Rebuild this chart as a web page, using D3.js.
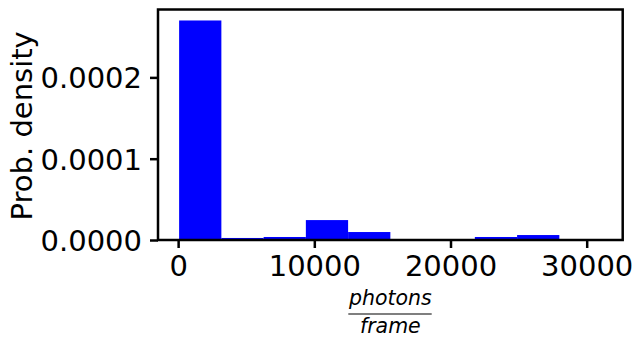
<!DOCTYPE html>
<html>
<head>
<meta charset="utf-8">
<script src="https://cdn.jsdelivr.net/npm/d3@7"></script>
<style>
  html, body { margin: 0; padding: 0; background: #fff; }
  svg { display: block; font-family: "DejaVu Sans", sans-serif; }
</style>
</head>
<body>
<svg id="chart" width="643" height="345"></svg>
<script>
// Histogram bin edges (photons/frame) and probability densities
const binEdges = [73, 3175, 6277, 9379, 12481, 15583, 18685, 21787, 24889, 27991, 31093];
const densities = [2.70e-4, 2.5e-6, 3.7e-6, 2.45e-5, 9.8e-6, 0, 0, 3.7e-6, 6.1e-6, 3e-7];
const xTicks = [0, 10000, 20000, 30000];
const yTicks = [0, 0.0001, 0.0002];
const yTickLabels = ["0.0000", "0.0001", "0.0002"];

const svg = d3.select("#chart");
const mLeft = 158, mRight = 622.7, mTop = 9.5, mBottom = 240;

const span = binEdges[binEdges.length - 1] - binEdges[0];
const x = d3.scaleLinear()
  .domain([binEdges[0] - 0.05 * span, binEdges[binEdges.length - 1] + 0.05 * span])
  .range([mLeft, mRight]);
const y = d3.scaleLinear()
  .domain([0, d3.max(densities) * 1.05])
  .range([mBottom, mTop]);

const bins = densities.map((d, i) => ({x0: binEdges[i], x1: binEdges[i + 1], v: d}));

svg.append("g").selectAll("rect").data(bins).join("rect")
  .attr("x", d => x(d.x0))
  .attr("width", d => x(d.x1) - x(d.x0))
  .attr("y", d => y(d.v))
  .attr("height", d => y(0) - y(d.v))
  .attr("fill", "#0000ff");

// Axes
const fs = 29;
const xAxis = d3.axisBottom(x).tickValues(xTicks).tickFormat(d3.format("d")).tickSize(8).tickPadding(7);
const gx = svg.append("g").attr("transform", `translate(0,${mBottom})`).call(xAxis);
gx.select(".domain").remove();
gx.selectAll(".tick line").attr("stroke", "#000").attr("stroke-width", 2.5);
gx.selectAll(".tick text").attr("font-size", fs).attr("font-family", "DejaVu Sans").attr("fill", "#000");

const yAxis = d3.axisLeft(y).tickValues(yTicks).tickFormat((d, i) => yTickLabels[i]).tickSize(8).tickPadding(8);
const gy = svg.append("g").attr("transform", `translate(${mLeft},0)`).call(yAxis);
gy.select(".domain").remove();
gy.selectAll(".tick line").attr("stroke", "#000").attr("stroke-width", 2.5);
gy.selectAll(".tick text").attr("font-size", fs).attr("font-family", "DejaVu Sans").attr("fill", "#000")
  .attr("dy", "0.36em");

// Frame
svg.append("rect")
  .attr("x", mLeft).attr("y", mTop)
  .attr("width", mRight - mLeft).attr("height", mBottom - mTop)
  .attr("fill", "none").attr("stroke", "#000").attr("stroke-width", 2.5);

// Y label
svg.append("text")
  .attr("transform", `translate(31.5,125.8) rotate(-90)`)
  .attr("text-anchor", "middle")
  .attr("font-size", fs)
  .attr("fill", "#000")
  .text("Prob. density");

// X label as fraction
const cx = (mLeft + mRight) / 2;
svg.append("text")
  .attr("x", cx).attr("y", 305)
  .attr("text-anchor", "middle")
  .attr("font-size", 20.5)
  .attr("font-style", "italic")
  .attr("fill", "#000")
  .text("photons");
svg.append("line")
  .attr("x1", 348.3).attr("x2", 431.7)
  .attr("y1", 314).attr("y2", 314)
  .attr("stroke", "#000").attr("stroke-width", 1.2);
svg.append("text")
  .attr("x", cx).attr("y", 333)
  .attr("text-anchor", "middle")
  .attr("font-size", 20.5)
  .attr("font-style", "italic")
  .attr("fill", "#000")
  .text("frame");
</script>
</body>
</html>
